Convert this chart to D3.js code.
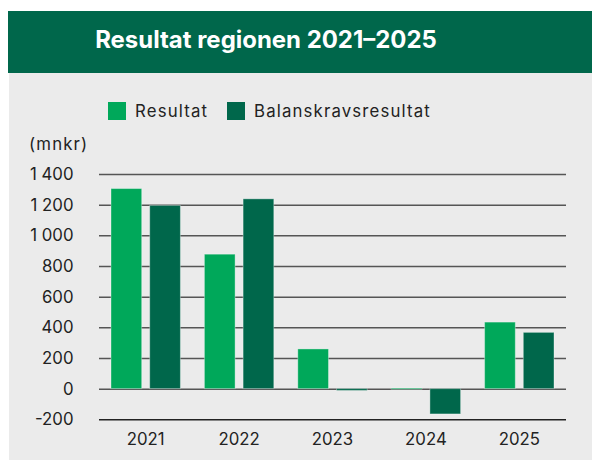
<!DOCTYPE html>
<html><head><meta charset="utf-8">
<script src="https://cdn.jsdelivr.net/npm/d3@7"></script>
<style>body{margin:0;background:#fff}svg{display:block}text{font-family:Inter,"Open Sans",sans-serif}</style>
</head><body>
<script>
const years = ["2021","2022","2023","2024","2025"];
const seriesNames = ["Resultat","Balanskravsresultat"];
const resultat = [1305, 877, 259, 3, 434];
const balanskrav = [1195, 1238, -12, -165, 367];
const yTicks = [-200, 0, 200, 400, 600, 800, 1000, 1200, 1400];
const colors = ["#00a85a", "#00674b"];

const W = 592, H = 468;
const svg = d3.select("body").append("svg").attr("width", W).attr("height", H);

function measure(txt, weight, size) {
  const t = svg.append("text").attr("font-size", size).attr("font-weight", weight).text(txt);
  const w = t.node().getComputedTextLength(); t.remove();
  return w;
}
const bodySize = 16.8;
const tickSize = 16.8;
const bodyLS = Math.max(0, (177 - measure("Balanskravsresultat", 400, bodySize)) / 19);
const tickLS = Math.max(0, (39 - measure("2025", 400, tickSize)) / 4);
const titleSize = 100 * 342 / measure("Resultat regionen 2021–2025", 700, 100);

svg.append("rect").attr("x", 8).attr("y", 11).attr("width", W - 8).attr("height", 62).attr("fill", "#00674b");
svg.append("rect").attr("x", 9).attr("y", 73).attr("width", W - 9).attr("height", 387).attr("fill", "#ebebeb");
svg.append("text").attr("x", 266).attr("y", 48).attr("text-anchor", "middle")
  .attr("fill", "#fff").attr("font-weight", 700).attr("font-size", titleSize).text("Resultat regionen 2021–2025");

const x0 = d3.scaleBand().domain(years).range([99, 566]).paddingInner(0).paddingOuter(0);
const x1 = d3.scaleBand().domain(seriesNames).range([12, x0.bandwidth() - 12]).paddingInner(0.207);
const y = d3.scaleLinear().domain([-200, 1400]).range([419.3, 174]);

const lx = [108, 227];
seriesNames.forEach((s, i) => {
  svg.append("rect").attr("x", lx[i]).attr("y", 102).attr("width", 18).attr("height", 18).attr("fill", colors[i]);
  svg.append("text").attr("x", lx[i] + 27).attr("y", 117.3).attr("font-size", bodySize)
    .attr("letter-spacing", bodyLS).attr("fill", "#222").text(s);
});
svg.append("text").attr("x", 29).attr("y", 150).attr("font-size", bodySize)
  .attr("letter-spacing", bodyLS).attr("fill", "#222").text("(mnkr)");

const fmt = v => { const s = String(Math.abs(v)); const t = s.length > 3 ? s.slice(0, s.length - 3) + "\u00a0" + s.slice(-3) : s; return (v < 0 ? "-" : "") + t; };
const gy = svg.append("g").attr("transform", "translate(99,0)")
  .call(d3.axisLeft(y).tickValues(yTicks).tickSize(-(566 - 99)).tickPadding(25.5).tickFormat(fmt));
gy.select(".domain").remove();
gy.selectAll(".tick line").attr("stroke", d => d === -200 ? "#222" : "#555").attr("stroke-width", 1.5);
gy.selectAll(".tick text").attr("font-size", tickSize).attr("letter-spacing", tickLS)
  .attr("fill", "#222").attr("font-family", "Inter,sans-serif");

const g = svg.append("g");
years.forEach((yr, i) => {
  [resultat[i], balanskrav[i]].forEach((v, j) => {
    g.append("rect")
      .attr("x", x0(yr) + x1(seriesNames[j]))
      .attr("y", y(Math.max(0, v)))
      .attr("width", x1.bandwidth())
      .attr("height", Math.max(1, Math.abs(y(v) - y(0))))
      .attr("fill", colors[j])
      .attr("stroke", "rgba(255,255,255,0.35)").attr("stroke-width", 1);
  });
});

const gx = svg.append("g").attr("transform", "translate(0,419.3)")
  .call(d3.axisBottom(x0).tickSize(0).tickPadding(14));
gx.select(".domain").remove();
gx.selectAll(".tick text").attr("font-size", tickSize).attr("letter-spacing", tickLS)
  .attr("fill", "#222").attr("font-family", "Inter,sans-serif");
</script>
</body></html>
